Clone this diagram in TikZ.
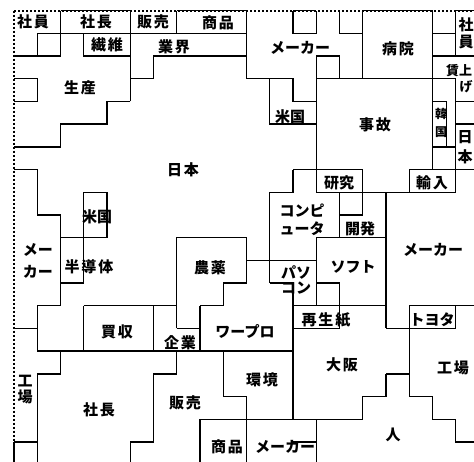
\documentclass[tikz,border=0pt]{standalone}
\usepackage{fontspec}
\newfontfamily\jp{Noto Sans CJK JP}
\newcommand\ks{\kern2pt}
\begin{document}
\begin{tikzpicture}[x=1pt,y=-1pt,
  lbl/.style={font=\jp\bfseries\fontsize{15}{15}\selectfont, inner sep=0pt},
  stk/.style={font=\jp\bfseries\fontsize{15}{17}\selectfont, inner sep=0pt, align=center},
  wall/.style={line width=1.4pt, line join=miter, line cap=square},
  edge/.style={line width=2pt, dash pattern=on 2pt off 2pt}]
\useasboundingbox (0,0) rectangle (474,462);
\fill[white] (0,0) rectangle (474,462);
\clip (0,0) rectangle (474,462);
\begin{scope}[shift={(14pt,-10.7pt)},x=23.25pt,y=-22.7pt]
% border
\draw[edge] (0,0) -- (20,0);
\draw[edge] (0,0) -- (0,19);
\begin{scope}[wall]
\draw (0,19) -- (0,20);
\draw (2,0)--(5,0) (7,0)--(10,0) (12,0)--(13,0) (15,0)--(18,0) (19,0)--(20,0);
% top left
\draw (0,2)--(2,2) (2,0)--(2,2) (1,1)--(1,2) (1,1)--(10,1) (5,0)--(5,4) (7,0)--(7,1) (10,0)--(10,3)
      (3,1)--(3,2)--(5,2) (5,3)--(6,3)--(6,2)--(10,2);
\draw (5,4)--(4,4)--(4,5)--(2,5)--(2,6)--(0,6);
\draw (0,3)--(1,3)--(1,4)--(0,4);
% top middle
\draw (10,3)--(12,3)--(12,4)--(13,4) (11,3)--(11,5)--(13,5);
\draw (12,0)--(12,1)--(13,1)--(13,0);
\draw (14,0)--(14,1)--(15,1);
\draw (15,0)--(15,3);
\draw (13,2)--(14,2)--(14,3) (13,2)--(13,8) (13,3)--(18,3) (18,0)--(18,7);
% right column
\draw (18,1)--(19,1) (19,0)--(19,2) (18,2)--(20,2) (18,3)--(19,3) (19,3)--(19,8) (19,4)--(20,4);
\draw (18,4)--(18.6,4)--(18.6,6) (18,6)--(19,6);
\draw (19,5)--(20,5) (17,7)--(20,7) (17,7)--(17,8) (13,8)--(19,8);
% centre
\draw (12,7)--(15,7) (12,7)--(12,8)--(11,8)--(11,12) (15,7)--(15,9) (14,8)--(14,10) (14,9)--(15,9)
      (16,8)--(16,14) (13,10)--(16,10) (13,10)--(13,13) (10,11)--(13,11) (11,12)--(12,12)--(12,18)
      (13,12)--(14,12)--(14,14) (12,13)--(16,13) (12,14)--(14,14) (16,14)--(17,14);
\draw (17,13)--(20,13) (19,13)--(19,14)--(17,14) (17,13)--(17,17)--(18,17)--(18,18)--(19,18)--(19,19)--(20,19);
\draw (16,16)--(17,16) (16,16)--(16,17)--(15,17)--(15,18)--(8,18) (13,18)--(13,20) (12,19)--(13,19);
\draw (8,18)--(8,20) (10,18)--(10,20) (9,15)--(9,17)--(10,17)--(10,18);
\draw (1,15)--(12,15);
\draw (7,14)--(7,10)--(10,10)--(10,12)--(9,12)--(9,13)--(8,13) (7,14)--(8,14) (8,13)--(8,15);
\draw (3,13)--(7,13) (3,13)--(3,15) (6,13)--(6,15);
\draw (7,15)--(7,16)--(6,16)--(6,19)--(5,19)--(5,20);
\draw (0,7)--(1,7)--(1,9)--(2,9)--(2,13)--(1,13)--(1,15) (0,14)--(1,14);
\draw (2,15)--(2,16)--(1,16)--(1,20) (0,19)--(1,19);
\draw (2,10)--(4,10) (3,8)--(3,12) (3,8)--(4,8)--(4,10) (2,12)--(3,12);
\end{scope}
\end{scope}
% labels
\node[lbl] (shain1) at (33,22) {社\ks 員};
\node[lbl] (shacho1) at (96,22) {社\ks 長};
\node[lbl] (hanbai1) at (153,22) {販\ks 売};
\node[lbl] (shohin1) at (218,23) {商\ks 品};
\node[lbl] (seni) at (107,45) {繊\ks 維};
\node[lbl] (gyokai) at (174,47) {業\ks 界};
\node[lbl] (maker1) at (300,48) {メーカー};
\node[lbl] (byoin) at (398,49) {病\ks 院};
\node[stk] (shain2) at (466,33) {社\\員};
\node[lbl, font=\jp\bfseries\fontsize{13}{13}\selectfont, anchor=west] (chin) at (446,71) {賃上};
\node[lbl, font=\jp\bfseries\fontsize{13}{13}\selectfont] (ge) at (466,87) {げ};
\node[stk, font=\jp\bfseries\fontsize{12}{18}\selectfont] (kankoku) at (441,123) {韓\\国};
\node[stk, font=\jp\bfseries\fontsize{15}{20}\selectfont] (nihon2) at (465,147) {日\\本};
\node[lbl] (seisan) at (80,88) {生\ks 産};
\node[lbl] (beikoku1) at (290,117) {米国};
\node[lbl] (jiko) at (375,125) {事\ks 故};
\node[lbl] (nihon1) at (183,170) {日\ks 本};
\node[lbl] (kenkyu) at (339,183) {研究};
\node[lbl] (yunyu) at (432,183) {輸\ks 入};
\node[stk, font=\jp\bfseries\fontsize{15}{18}\selectfont] (computer) at (302,220) {コンピ\\ュータ};
\node[lbl] (kaihatsu) at (360,229) {開発};
\node[stk, font=\jp\bfseries\fontsize{15}{22}\selectfont] (maker2) at (38,261) {メー\\カー};
\node[lbl] (beikoku2) at (97,217) {米国};
\node[lbl] (handotai) at (89,267) {半\ks 導\ks 体};
\node[lbl] (maker3) at (433,250) {メーカー};
\node[lbl] (noyaku) at (210,268) {農\ks 薬};
\node[stk, font=\jp\bfseries\fontsize{15}{15}\selectfont] (pasokon) at (296,280) {パソ\\コン};
\node[lbl] (soft) at (353,267) {ソフト};
\node[lbl] (baishu) at (117,332) {買\ks 収};
\node[lbl] (kigyo) at (180,343) {企\ks 業};
\node[lbl] (wapuro) at (245,332) {ワープロ};
\node[lbl] (saiseishi) at (326,320) {再\ks 生\ks 紙};
\node[lbl] (toyota) at (432,320) {トヨタ};
\node[lbl] (osaka) at (342,365) {大\ks 阪};
\node[lbl] (kojo1) at (453,368) {工\ks 場};
\node[stk, font=\jp\bfseries\fontsize{15}{16}\selectfont] (kojo2) at (25,390) {工\\場};
\node[lbl] (shacho2) at (99,410) {社\ks 長};
\node[lbl] (hanbai2) at (185,403) {販\ks 売};
\node[lbl] (kankyo) at (262,380) {環\ks 境};
\node[lbl] (hito) at (393,435) {人};
\node[lbl] (shohin2) at (227,447) {商\ks 品};
\node[lbl] (maker4) at (285,447) {メーカー};
\end{tikzpicture}
\end{document}
